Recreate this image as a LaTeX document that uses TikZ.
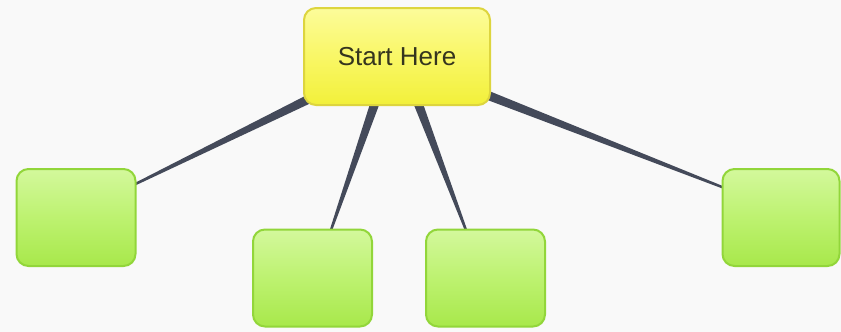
\documentclass[tikz,border=0pt]{standalone}
\usepackage{fontspec}
\setmainfont{Liberation Sans}
\usetikzlibrary{calc}
\pgfdeclarelayer{background}
\pgfsetlayers{background,main}
\definecolor{bgc}{HTML}{F9F9F9}
\definecolor{connc}{HTML}{444A5A}
\definecolor{ytop}{HTML}{FCFC9A}
\definecolor{ymid}{HTML}{F9F766}
\definecolor{ybot}{HTML}{F2F03A}
\definecolor{yline}{HTML}{DDD53E}
\definecolor{gtop}{HTML}{D3F89C}
\definecolor{gmid}{HTML}{BDF270}
\definecolor{gbot}{HTML}{A8E84B}
\definecolor{gline}{HTML}{92D63A}
\definecolor{txtc}{HTML}{35351E}
\tikzset{
  startbox/.style={draw=yline, line width=2pt, rounded corners=12pt,
    top color=ytop, bottom color=ybot, middle color=ymid,
    minimum width=186pt, minimum height=97pt, inner sep=0pt,
    font=\fontsize{26}{30}\selectfont, text=txtc},
  leafbox/.style={draw=gline, line width=2pt, rounded corners=12pt,
    top color=gtop, bottom color=gbot, middle color=gmid,
    minimum width=119pt, minimum height=97pt, inner sep=0pt},
  conn/.style={fill=connc}
}
\newcommand\taperlink[4]{%
  \fill[conn] ($(#1)!#3!90:(#2)$) -- ($(#1)!#3!-90:(#2)$) --
    ($(#2)!#4!90:(#1)$) -- ($(#2)!#4!-90:(#1)$) -- cycle;}
\begin{document}
\begin{tikzpicture}[x=1pt,y=-1pt]
\useasboundingbox (0,0) rectangle (841,332);
\node[startbox] (s) at (397,56.5) {Start Here};
\node[leafbox] (a) at (76,217.5) {};
\node[leafbox] (b) at (312.5,278) {};
\node[leafbox] (c) at (485.5,278) {};
\node[leafbox, minimum width=117pt] (d) at (781,217.5) {};
\coordinate (p1) at ($(s.south west)+(6pt,7pt)$);
\coordinate (q1) at ($(a.north east)+(-3pt,-17pt)$);
\coordinate (p2) at ($(s.south)+(-22pt,3pt)$);
\coordinate (q2) at ($(b.north)+(18pt,-3pt)$);
\coordinate (p3) at ($(s.south)+(21pt,3pt)$);
\coordinate (q3) at ($(c.north)+(-19pt,-3pt)$);
\coordinate (p4) at ($(s.south east)+(-4pt,11pt)$);
\coordinate (q4) at ($(d.north west)+(3pt,-20pt)$);
\begin{pgfonlayer}{background}
\fill[bgc] (0,0) rectangle (841,332);
\taperlink{p1}{q1}{4.5pt}{1.2pt}
\taperlink{p2}{q2}{4.5pt}{1.2pt}
\taperlink{p3}{q3}{4.5pt}{1.2pt}
\taperlink{p4}{q4}{4.5pt}{1.2pt}
\end{pgfonlayer}
\end{tikzpicture}
\end{document}
